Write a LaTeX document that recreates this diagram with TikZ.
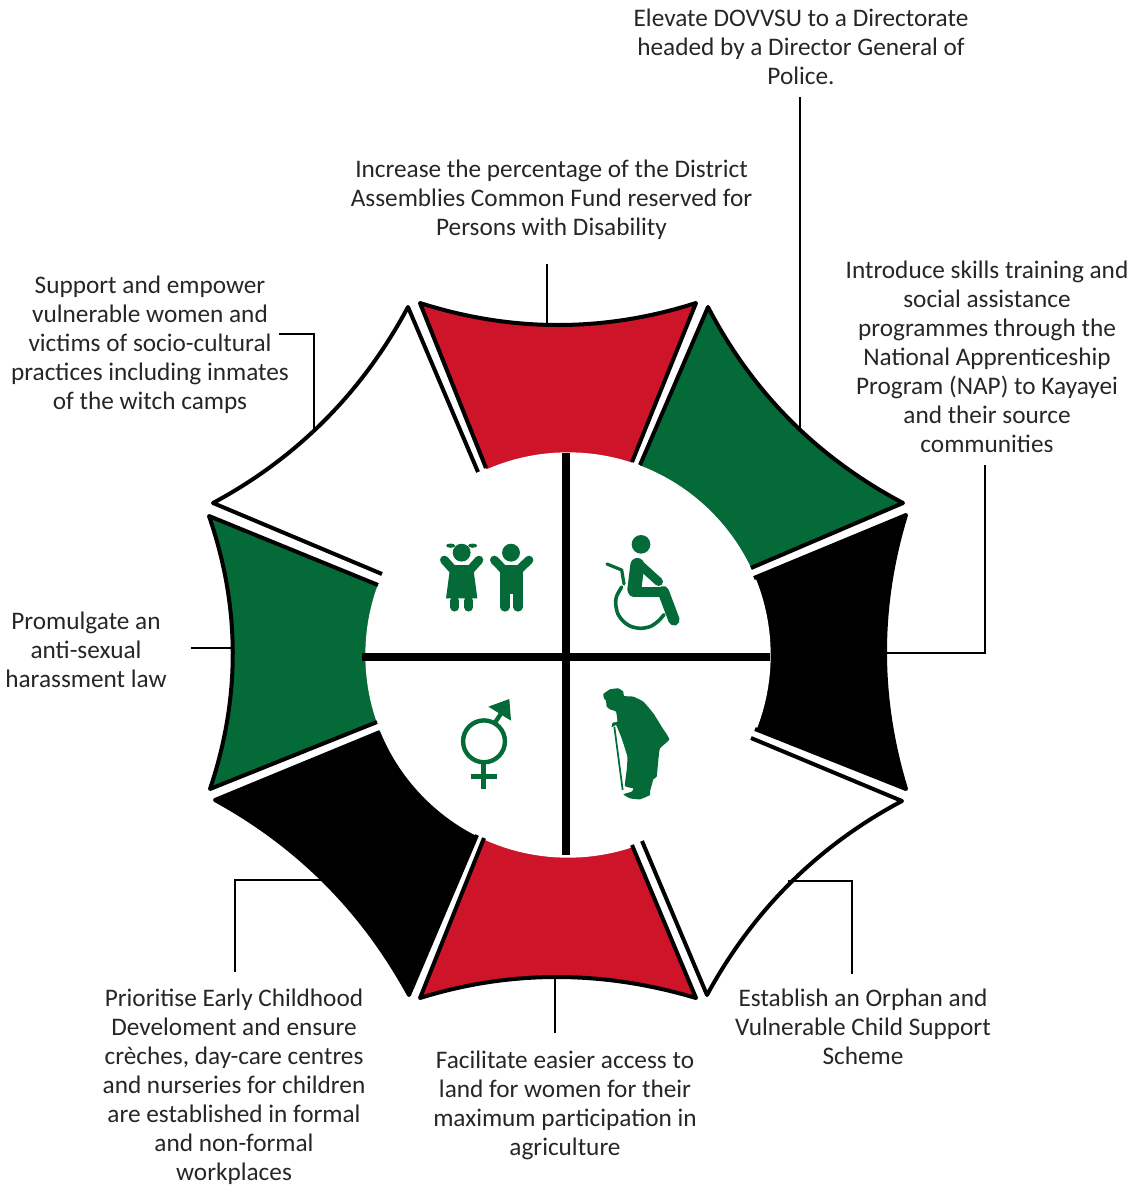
\documentclass[tikz,border=0pt]{standalone}
\usepackage{fontspec}
\setmainfont{Carlito}
\usetikzlibrary{calc}
\definecolor{gr}{HTML}{046A38}
\definecolor{rd}{HTML}{CE1429}
\definecolor{txt}{HTML}{262626}
\tikzset{
  lbl/.style={align=center,text=txt,inner sep=0pt,font=\fontsize{18.95}{21.75}\selectfont},
  leader/.style={draw=black,line width=1.1pt},
  edge/.style={draw=black,line width=3pt,line join=round,line cap=butt},
  bar/.style={draw=black,line width=5.5pt},
  ic/.style={fill=gr,draw=none},
  icl/.style={draw=gr,line cap=round,line join=round}
}
% colour, inner1, corner1, control, corner2, inner2
\newcommand{\petalfill}[6]{%
  \fill[#1] (#2) -- (#3) .. controls ($(#3)!2/3!(#4)$) and ($(#5)!2/3!(#4)$) .. (#5) -- (#6) -- (566,656) -- cycle;
}
\newcommand{\petaledge}[6]{%
  \draw[edge] (#2) -- (#3) .. controls ($(#3)!2/3!(#4)$) and ($(#5)!2/3!(#4)$) .. (#5) -- (#6);
}
\newcommand{\allpetals}[1]{%
  #1{rd}{486,468}{420,303}{558,347}{696,303}{632,462}
  #1{gr}{640,465}{708,307}{774.5,435}{903,503}{751,568}
  #1{black}{754,578}{906,515}{864,652}{906,789}{755,729}
  #1{white}{751,738}{902,801}{776,868}{707,995}{642,841}
  #1{rd}{632,845}{696,998}{555,956}{420,998}{484,838}
  #1{black}{477,835}{409,995}{340,868.5}{215,800}{380,732}
  #1{gr}{377,722}{210,789}{256,652}{209,516}{378,585}
  #1{white}{382,574}{213,503}{339.5,435}{408,307}{478,472}
}
\begin{document}
\begin{tikzpicture}[x=0.75pt,y=-0.75pt]
\useasboundingbox (0,0) rectangle (1143,1185);
% petals
\allpetals{\petalfill}
% hub
\fill[white] (568,655) circle[radius=152pt];
\allpetals{\petaledge}
\coordinate (hl) at (362,657);
\coordinate (hr) at (770,657);
\coordinate (vt) at (566,453);
\coordinate (vb) at (566,855);
\draw[bar] (hl) -- (hr);
\draw[bar] (vt) -- (vb);
% icons, in a 3x grid
\begin{scope}[shift={(400,510)},x=0.25pt,y=-0.25pt]
  % girl
  \draw[icl,line width=6.5pt] (133,150) -- (158,178) -- (212,178) -- (237,150);
  \fill[ic] (150,175) -- (220,175) -- (232,265) -- (138,265) -- cycle;
  \draw[icl,line width=6.8pt] (164,272) -- (164,291);
  \draw[icl,line width=6.8pt] (206,272) -- (206,291);
  \fill[white] (185,128) circle[radius=8pt];
  \fill[ic] (185,128) circle[radius=6.7pt];
  \fill[ic] (152,107) ellipse[x radius=3.4pt,y radius=1.6pt];
  \fill[ic] (218,107) ellipse[x radius=3.4pt,y radius=1.6pt];
  % boy
  \draw[icl,line width=6.5pt] (283,150) -- (310,178) -- (358,178) -- (387,150);
  \fill[ic] (300,172) rectangle (368,252);
  \draw[icl,line width=7pt] (315,240) -- (315,291);
  \draw[icl,line width=7pt] (354,240) -- (354,291);
  \fill[white] (333,128) circle[radius=8pt];
  \fill[ic] (333,128) circle[radius=6.7pt];
  % wheelchair
  \fill[ic] (723,103) circle[radius=7pt];
  \draw[icl,line width=2.7pt] plot[smooth] coordinates {(665,231) (650,258) (647,280) (653,310) (669,333) (692,349) (722,355) (752,349) (775,333) (792,314)};
  \draw[icl,line width=2.4pt] (621,162) -- (665,180) -- (672,222);
  \draw[icl,line width=10.5pt] (712,165) -- (703,238);
  \draw[icl,line width=6.5pt] (715,160) -- (776,215);
  \draw[icl,line width=7.5pt] (700,245) -- (790,245);
  \draw[icl,line width=8.5pt] (790,245) -- (822,330);
  \fill[white] (733,199) -- (733,226) -- (763,226) -- cycle;
  % gender
  \draw[draw=gr,line width=3.3pt] (252,694) circle[radius=15.7pt];
  \draw[draw=gr,line width=4pt] (251,760) -- (251,838);
  \draw[draw=gr,line width=4pt] (212,800) -- (290,800);
  \draw[draw=gr,line width=3.3pt] (285,638) -- (310,600);
  \fill[ic] (265,590) -- (328,567) -- (333,632) -- cycle;
  % elder
  \fill[ic] plot[smooth cycle,tension=0.25] coordinates {(610,552) (630,538) (655,535) (670,545) (672,558) (700,560) (730,575) (760,610) (785,650) (808,688) (780,715) (775,750) (770,800) (760,808) (750,845) (750,855) (720,868) (690,865) (670,853) (695,845) (700,835) (675,828) (680,780) (682,740) (665,685) (655,660) (648,645) (635,652) (638,638) (652,635) (648,605) (630,598) (620,590) (618,572) (612,565)};
  \draw[draw=gr,line width=1.3pt] (643,650) -- (668,840);
\end{scope}
% labels
\node[lbl] (n1) at (801,47.2) {Elevate DOVVSU to a Directorate\\headed by a Director General of\\Police.};
\node[lbl] (n2) at (551.5,200) {Increase the percentage of the District\\Assemblies Common Fund reserved for\\Persons with Disability};
\node[lbl] (n3) at (987,357) {Introduce skills training and\\social assistance\\programmes through the\\National Apprenticeship\\Program (NAP) to Kayayei\\and their source\\communities};
\node[lbl] (n4) at (150,345) {Support and empower\\vulnerable women and\\victims of socio-cultural\\practices including inmates\\of the witch camps};
\node[lbl] (n5) at (86,650) {Promulgate an\\anti-sexual\\harassment law};
\node[lbl] (n6) at (234,1086.5) {Prioritise Early Childhood\\Develoment and ensure\\crèches, day-care centres\\and nurseries for children\\are established in formal\\and non-formal\\workplaces};
\node[lbl] (n7) at (565,1105.5) {Facilitate easier access to\\land for women for their\\maximum participation in\\agriculture};
\node[lbl] (n8) at (863,1027) {Establish an Orphan and\\Vulnerable Child Support\\Scheme};
% leaders
\coordinate (a1) at (800,97);   \coordinate (b1) at (800,432);
\coordinate (a2) at (547,264);  \coordinate (b2) at (547,325);
\coordinate (a3) at (985,465);  \coordinate (m3) at (985,653); \coordinate (b3) at (885,653);
\coordinate (a4) at (279,334);  \coordinate (m4) at (314,334); \coordinate (b4) at (314,432);
\coordinate (a5) at (191,648);  \coordinate (b5) at (233,648);
\coordinate (a6) at (235,972);  \coordinate (m6) at (235,880); \coordinate (b6) at (327,880);
\coordinate (a7) at (555,1033); \coordinate (b7) at (555,977);
\coordinate (a8) at (852,974);  \coordinate (m8) at (852,881); \coordinate (b8) at (788,881);
\draw[leader] (a1) -- (b1);
\draw[leader] (a2) -- (b2);
\draw[leader] (a3) -- (m3) -- (b3);
\draw[leader] (a4) -- (m4) -- (b4);
\draw[leader] (a5) -- (b5);
\draw[leader] (a6) -- (m6) -- (b6);
\draw[leader] (a7) -- (b7);
\draw[leader] (a8) -- (m8) -- (b8);
\end{tikzpicture}
\end{document}
